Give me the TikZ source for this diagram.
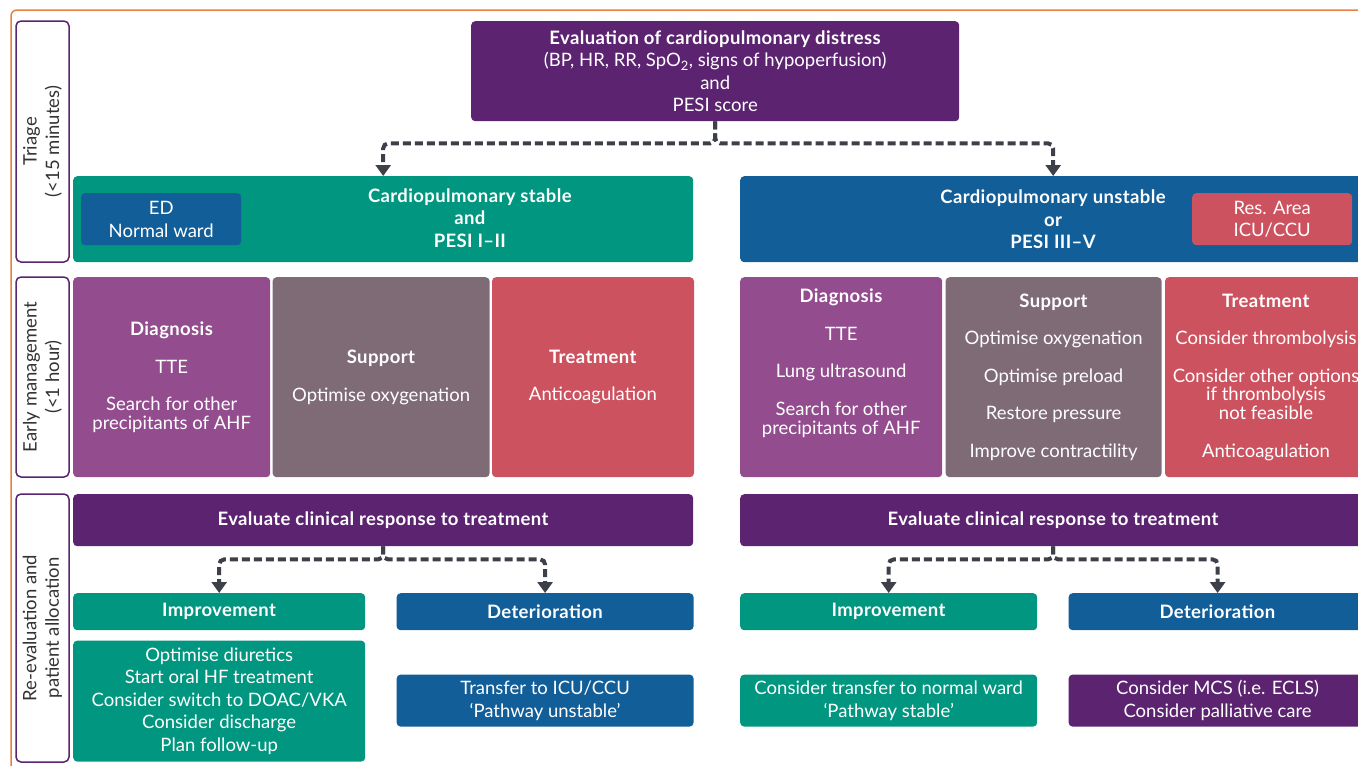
\documentclass[tikz,border=0pt]{standalone}
\usepackage{fontspec}
\setmainfont{Lato}[BoldFeatures={LetterSpace=2.0}]
\usetikzlibrary{positioning,arrows.meta}
\definecolor{PEPurple}{HTML}{5B2370}
\definecolor{PEGreen}{HTML}{00967F}
\definecolor{PEBlue}{HTML}{115E99}
\definecolor{PERed}{HTML}{CD525F}
\definecolor{PEViolet}{HTML}{934D8E}
\definecolor{PEMauve}{HTML}{7F6B76}
\definecolor{PEArrow}{HTML}{3D4049}
\definecolor{PEOrange}{HTML}{EA7F3D}

\begin{document}
\begin{tikzpicture}[x=1pt, y=-1pt,
  box/.style={rounded corners=4pt, inner sep=1pt, align=center, text=white, anchor=north west, font=\fontsize{18.5}{22.5}\selectfont},
  tight/.style={font=\fontsize{18.5}{18.75}\selectfont},
  label/.style={inner sep=0pt, align=center, text=white, font=\fontsize{18.5}{22.5}\selectfont},
  side/.style={draw=PEPurple, line width=1.5pt, fill=white, rounded corners=5pt, rotate=90, minimum height=53, align=center, text=black!80, font=\fontsize{18.5}{22.5}\selectfont},
  flow/.style={PEArrow, line width=4pt, dash pattern=on 8pt off 4pt, rounded corners=5pt, -{Triangle[width=15pt,length=11pt]}}
]
\useasboundingbox (0,0) rectangle (1358,766);
\clip (0,0) rectangle (1358,766);
\draw[PEOrange, line width=1.5pt, rounded corners=6pt] (11,10) rectangle (1420,820);

% phase labels
\node[side, minimum width=241] (triage) at (42.5,141.5) {Triage\\(<15 minutes)};
\node[side, minimum width=200] (early) at (42.5,377) {Early management\\(<1 hour)};
\node[side, minimum width=268] (reeval) at (42.5,628) {Re-evaluation and\\patient allocation};

% triage
\node[box, fill=PEPurple, minimum width=488, minimum height=100] (eval) at (471,21)
  {\textbf{Evaluation of cardiopulmonary distress}\\(BP, HR, RR, SpO\textsubscript{2}, signs of hypoperfusion)\\and\\PESI score};
\node[box, fill=PEGreen, minimum width=620, minimum height=86] (stable) at (73,176) {};
\node[label] (stabletxt) at (470,218) {\textbf{Cardiopulmonary stable}\\\textbf{and}\\\textbf{PESI I–II}};
\node[box, fill=PEBlue, minimum width=160, minimum height=52] (ward) at (81,193) {ED\\Normal ward};
\node[box, fill=PEBlue, minimum width=626, minimum height=86] (unstable) at (740,176)
  {\textbf{Cardiopulmonary unstable}\\\textbf{or}\\\textbf{PESI III–V}};
\node[box, fill=PERed, minimum width=160, minimum height=52] (resarea) at (1192,193) {Res. Area\\ICU/CCU};

\draw[flow] (eval.south) -- ++(0,22) -| (stable.north);
\draw[flow] (eval.south) -- ++(0,22) -| (unstable.north);

% early management, stable
\node[box, tight, fill=PEViolet, minimum width=197, minimum height=200] (diagS) at (73,277)
  {\textbf{Diagnosis}\\[18.75pt]TTE\\[18.75pt]Search for other\\precipitants of AHF};
\node[box, tight, fill=PEMauve, minimum width=217, minimum height=200, anchor=west, right=2pt of diagS] (suppS)
  {\textbf{Support}\\[18.75pt]Optimise oxygenation};
\node[box, tight, fill=PERed, minimum width=202, minimum height=200, anchor=west, right=2pt of suppS] (treatS)
  {\textbf{Treatment}\\[18.75pt]Anticoagulation};

% early management, unstable
\node[box, fill=PEViolet, minimum width=202, minimum height=200] (diagU) at (740,277) {};
\node[label, tight] (diagUtxt) at ([yshift=14pt]diagU.center)
  {\textbf{Diagnosis}\\[18.75pt]TTE\\[18.75pt]Lung ultrasound\\[18.75pt]Search for other\\precipitants of AHF};
\node[box, tight, fill=PEMauve, minimum width=216, minimum height=200, anchor=west, right=3pt of diagU] (suppU)
  {\textbf{Support}\\[18.75pt]Optimise oxygenation\\[18.75pt]Optimise preload\\[18.75pt]Restore pressure\\[18.75pt]Improve contractility};
\node[box, tight, fill=PERed, minimum width=202, minimum height=200, anchor=west, right=3pt of suppU] (treatU)
  {\textbf{Treatment}\\[18.75pt]Consider thrombolysis\\[18.75pt]Consider other options\\if thrombolysis\\not feasible\\[18.75pt]Anticoagulation};

% re-evaluation, stable
\node[box, fill=PEPurple, minimum width=620, minimum height=52] (respS) at (73,494)
  {\textbf{Evaluate clinical response to treatment}};
\node[box, fill=PEGreen, minimum width=292, minimum height=37] (impS) at (73,593) {\textbf{Improvement}};
\node[box, fill=PEBlue, minimum width=297, minimum height=37, anchor=west, right=31pt of impS] (detS) {\textbf{Deterioration}};
\node[box, fill=PEGreen, minimum width=292, minimum height=121, anchor=north, below=10pt of impS] (impStxt)
  {Optimise diuretics\\Start oral HF treatment\\Consider switch to DOAC/VKA\\Consider discharge\\Plan follow-up};
\node[box, fill=PEBlue, minimum width=297, minimum height=52, anchor=north, below=44pt of detS] (detStxt)
  {Transfer to ICU/CCU\\‘Pathway unstable’};

\draw[flow] (respS.south) -- ++(0,13) -| (impS.north);
\draw[flow] (respS.south) -- ++(0,13) -| (detS.north);

% re-evaluation, unstable
\node[box, fill=PEPurple, minimum width=626, minimum height=52] (respU) at (740,494)
  {\textbf{Evaluate clinical response to treatment}};
\node[box, fill=PEGreen, minimum width=297, minimum height=37] (impU) at (740,593) {\textbf{Improvement}};
\node[box, fill=PEBlue, minimum width=298, minimum height=37, anchor=west, right=31pt of impU] (detU) {\textbf{Deterioration}};
\node[box, fill=PEGreen, minimum width=297, minimum height=52, anchor=north, below=44pt of impU] (impUtxt)
  {Consider transfer to normal ward\\‘Pathway stable’};
\node[box, fill=PEPurple, minimum width=298, minimum height=52, anchor=north, below=44pt of detU] (detUtxt)
  {Consider MCS (i.e. ECLS)\\Consider palliative care};

\draw[flow] (respU.south) -- ++(0,13) -| (impU.north);
\draw[flow] (respU.south) -- ++(0,13) -| (detU.north);
\end{tikzpicture}
\end{document}
